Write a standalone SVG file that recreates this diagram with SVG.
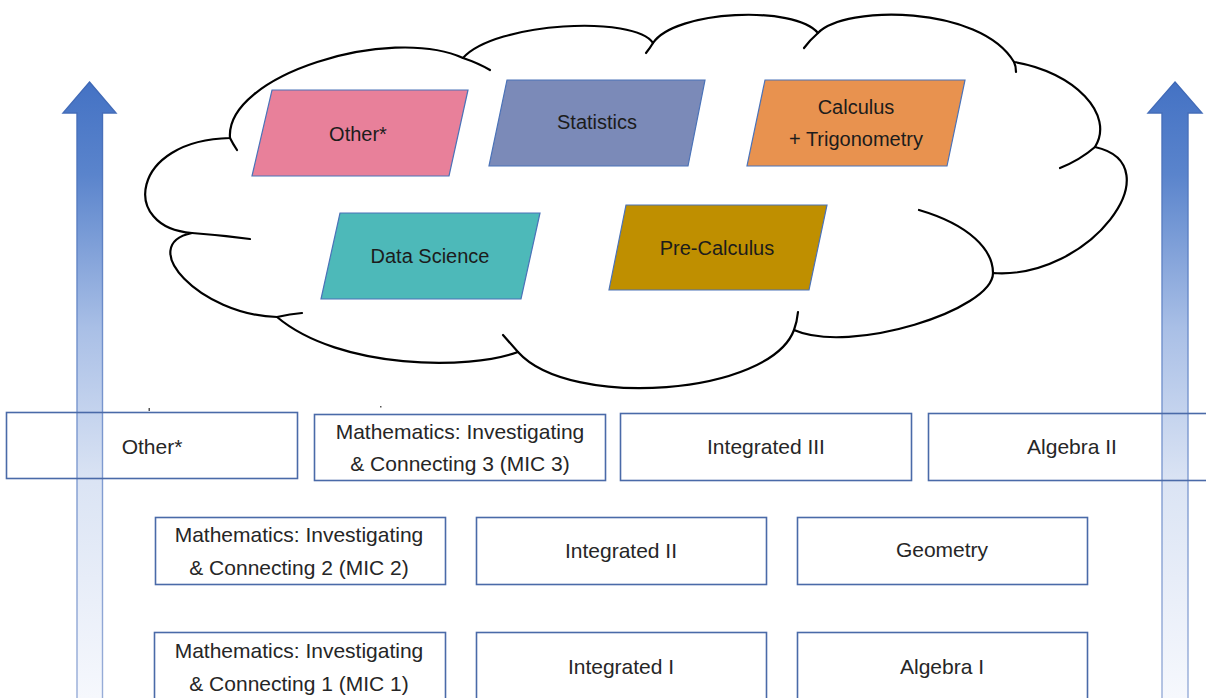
<svg xmlns="http://www.w3.org/2000/svg" width="1206" height="698" viewBox="0 0 1206 698">
  <style>
    .lbl { font-family: "Liberation Sans", Arial, sans-serif; font-size: 21px; fill: #262626; text-anchor: middle; }
    .plbl { font-family: "Liberation Sans", Arial, sans-serif; font-size: 20px; fill: #1c1c1c; text-anchor: middle; }
    .box { fill: none; stroke: #4a6aa8; stroke-width: 1.6; }
    .para { stroke: #4a72b8; stroke-width: 1.2; }
    .cloud { fill: #ffffff; stroke: #000000; stroke-width: 2.2; stroke-linejoin: round; stroke-linecap: round; }
    .hook { fill: none; stroke: #000000; stroke-width: 2.2; stroke-linecap: round; }
  </style>
  <defs>
    <linearGradient id="shaftFill" gradientUnits="userSpaceOnUse" x1="0" y1="82" x2="0" y2="698">
      <stop offset="0" stop-color="#4472c4"/>
      <stop offset="0.15" stop-color="#5a84cc"/>
      <stop offset="0.4" stop-color="#a9bfe6"/>
      <stop offset="0.65" stop-color="#dbe4f4"/>
      <stop offset="1" stop-color="#f6f8fd"/>
    </linearGradient>
    <linearGradient id="shaftLine" gradientUnits="userSpaceOnUse" x1="0" y1="82" x2="0" y2="698">
      <stop offset="0" stop-color="#3e68b6"/>
      <stop offset="0.4" stop-color="#6f8fcb"/>
      <stop offset="1" stop-color="#98add8"/>
    </linearGradient>
  </defs>

  <rect width="1206" height="698" fill="#ffffff"/>

  <!-- upward arrows at both sides -->
  <g id="arrow-left">
    <path d="M89.5,82 L116,113 L102.5,113 L102.5,710 L77,710 L77,113 L63,113 Z" fill="url(#shaftFill)" stroke="url(#shaftLine)" stroke-width="1.4"/>
  </g>
  <g id="arrow-right">
    <path d="M1175,82 L1202,113 L1188,113 L1188,710 L1162,710 L1162,113 L1148,113 Z" fill="url(#shaftFill)" stroke="url(#shaftLine)" stroke-width="1.4"/>
  </g>

  <!-- cloud -->
  <g id="cloud">
    <path class="cloud" d="M463,58
      C495,22 635,15 653,43
      C675,10 795,5 818,33
      C845,5 980,5 1014,62
      C1075,72 1115,115 1095,147
      C1175,165 1090,280 993,273
      C993,310 850,355 794,330
      C770,395 570,410 518,352
      C470,370 340,370 277,317
      C200,315 135,245 192,233
      C120,228 130,140 230,138
      C225,75 390,25 463,58 Z"/>
    <path class="hook" d="M463,58 Q478,63 490,70"/>
    <path class="hook" d="M653,43 Q650,48 646,53"/>
    <path class="hook" d="M818,33 Q810,40 804,48"/>
    <path class="hook" d="M1014,62 Q1016,66 1016,72"/>
    <path class="hook" d="M1095,147 Q1080,160 1060,168"/>
    <path class="hook" d="M993,273 C993,250 970,225 919,210"/>
    <path class="hook" d="M794,330 Q797,322 798,312"/>
    <path class="hook" d="M518,352 Q510,343 503,335"/>
    <path class="hook" d="M277,317 Q290,314 302,313"/>
    <path class="hook" d="M192,233 Q220,235 250,239"/>
    <path class="hook" d="M230,138 Q233,144 237,150"/>
  </g>

  <!-- course parallelograms inside the cloud -->
  <g id="p-other">
    <polygon class="para" points="272,90 468,90 449,176 252,176" fill="#e8809a"/>
    <text class="plbl" x="358" y="141">Other*</text>
  </g>
  <g id="p-statistics">
    <polygon class="para" points="507,80 705,80 688,166 489,166" fill="#7b8ab8"/>
    <text class="plbl" x="597" y="129">Statistics</text>
  </g>
  <g id="p-calculus">
    <polygon class="para" points="765,80 965,80 947,166 747,166" fill="#e8924f"/>
    <text class="plbl" x="856" y="114">Calculus</text>
    <text class="plbl" x="856" y="146">+ Trigonometry</text>
  </g>
  <g id="p-datascience">
    <polygon class="para" points="340,213 540,213 521,299 321,299" fill="#4db9b9"/>
    <text class="plbl" x="430" y="263">Data Science</text>
  </g>
  <g id="p-precalculus">
    <polygon class="para" points="626,205 827,205 809,290 609,290" fill="#bf8f00"/>
    <text class="plbl" x="717" y="255">Pre-Calculus</text>
  </g>

  <!-- course boxes, third row -->
  <g id="b-other">
    <rect class="box" x="6.5" y="412.5" width="291" height="66"/>
    <text class="lbl" x="152" y="454">Other*</text>
  </g>
  <g id="b-mic3">
    <rect class="box" x="314.5" y="414.5" width="291" height="66"/>
    <text class="lbl" x="460" y="439">Mathematics: Investigating</text>
    <text class="lbl" x="460" y="471">&amp; Connecting 3 (MIC 3)</text>
  </g>
  <g id="b-integrated3">
    <rect class="box" x="620.5" y="413.5" width="291" height="67"/>
    <text class="lbl" x="766" y="454">Integrated III</text>
  </g>
  <g id="b-algebra2">
    <rect class="box" x="928.5" y="413.5" width="300" height="67"/>
    <text class="lbl" x="1072" y="454">Algebra II</text>
  </g>

  <!-- course boxes, second row -->
  <g id="b-mic2">
    <rect class="box" x="155.5" y="517.5" width="290" height="67"/>
    <text class="lbl" x="299" y="542">Mathematics: Investigating</text>
    <text class="lbl" x="299" y="575">&amp; Connecting 2 (MIC 2)</text>
  </g>
  <g id="b-integrated2">
    <rect class="box" x="476.5" y="517.5" width="290" height="67"/>
    <text class="lbl" x="621" y="558">Integrated II</text>
  </g>
  <g id="b-geometry">
    <rect class="box" x="797.5" y="517.5" width="290" height="67"/>
    <text class="lbl" x="942" y="557">Geometry</text>
  </g>

  <!-- course boxes, first row -->
  <g id="b-mic1">
    <rect class="box" x="154.5" y="632.5" width="291" height="80"/>
    <text class="lbl" x="299" y="658">Mathematics: Investigating</text>
    <text class="lbl" x="299" y="691">&amp; Connecting 1 (MIC 1)</text>
  </g>
  <g id="b-integrated1">
    <rect class="box" x="476.5" y="632.5" width="290" height="80"/>
    <text class="lbl" x="621" y="674">Integrated I</text>
  </g>
  <g id="b-algebra1">
    <rect class="box" x="797.5" y="632.5" width="290" height="80"/>
    <text class="lbl" x="942" y="674">Algebra I</text>
  </g>

  <!-- stray marks above the third row -->
  <rect x="148.5" y="408" width="1.5" height="3" fill="#555555"/>
  <rect x="380" y="406" width="1.5" height="1.5" fill="#555555"/>
</svg>
